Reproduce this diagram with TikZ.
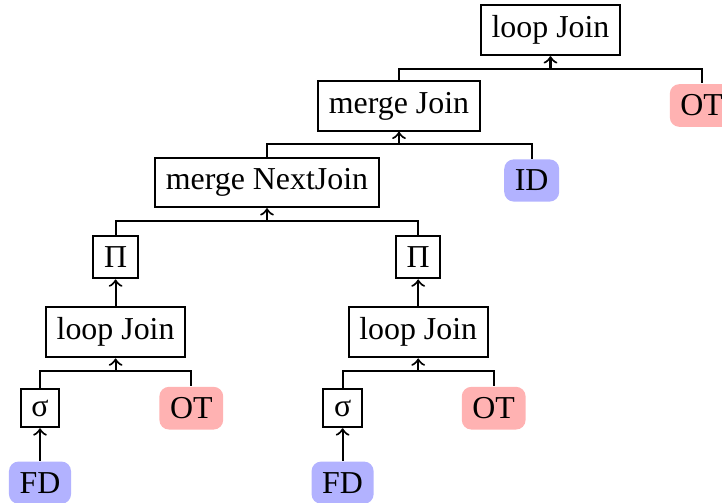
\documentclass[tikz,border=0pt]{standalone}
\usepackage{fontspec}
\setmainfont{Liberation Serif}
\newfontfamily\treefont{Liberation Serif}
\begin{document}
\begin{tikzpicture}[x=0.3135pt,y=-0.3135pt,
  every node/.style={font=\treefont\fontsize{10pt}{12pt}\selectfont},
  opbox/.style={draw,line width=0.65pt,rectangle},
  otbox/.style={fill=red!30,rounded corners=3pt},
  inbox/.style={fill=blue!30,rounded corners=3pt},
  link/.style={line width=0.65pt},
  up/.style={line width=0.65pt,->}]
\useasboundingbox (0,0) rectangle (722,503);
% operators
\node[opbox] (lj0) at (550.5,30) {loop Join};
\node[opbox] (mj) at (399,106) {merge Join};
\node[otbox] (ot0) at (701.7,105.5) {OT};
\node[opbox] (mnj) at (267,182.5) {merge NextJoin};
\node[inbox] (id) at (531.7,180.5) {ID};
% left branch
\node[opbox] (piA) at (115.6,257.3) {Π};
\node[opbox] (ljA) at (115.6,332.3) {loop Join};
\node[opbox] (sgA) at (40,408.3) {σ};
\node[otbox] (otA) at (191.3,408.2) {OT};
\node[inbox] (fdA) at (40,482.7) {FD};
% right branch
\node[opbox] (piB) at (418.2,257.3) {Π};
\node[opbox] (ljB) at (418.2,332.3) {loop Join};
\node[opbox] (sgB) at (342.6,408.3) {σ};
\node[otbox] (otB) at (493.7,408.2) {OT};
\node[inbox] (fdB) at (342.6,482.7) {FD};
% junction points below each join
\coordinate (j0) at ([yshift=-4pt]lj0.south);
\coordinate (j1) at ([yshift=-4pt]mj.south);
\coordinate (j2) at ([yshift=-4pt]mnj.south);
\coordinate (jA) at ([yshift=-4pt]ljA.south);
\coordinate (jB) at ([yshift=-4pt]ljB.south);
% edges
\draw[link] (mj.north) |- (j0) -| (ot0.north);
\draw[up] (j0) -- (lj0.south);
\draw[link] (mnj.north) |- (j1) -| (id.north);
\draw[up] (j1) -- (mj.south);
\draw[link] (piA.north) |- (j2) -| (piB.north);
\draw[up] (j2) -- (mnj.south);
\draw[up] (ljA.north) -- (piA.south);
\draw[up] (ljB.north) -- (piB.south);
\draw[link] (sgA.north) |- (jA) -| (otA.north);
\draw[up] (jA) -- (ljA.south);
\draw[link] (sgB.north) |- (jB) -| (otB.north);
\draw[up] (jB) -- (ljB.south);
\draw[up] (fdA.north) -- (sgA.south);
\draw[up] (fdB.north) -- (sgB.south);
\end{tikzpicture}
\end{document}
